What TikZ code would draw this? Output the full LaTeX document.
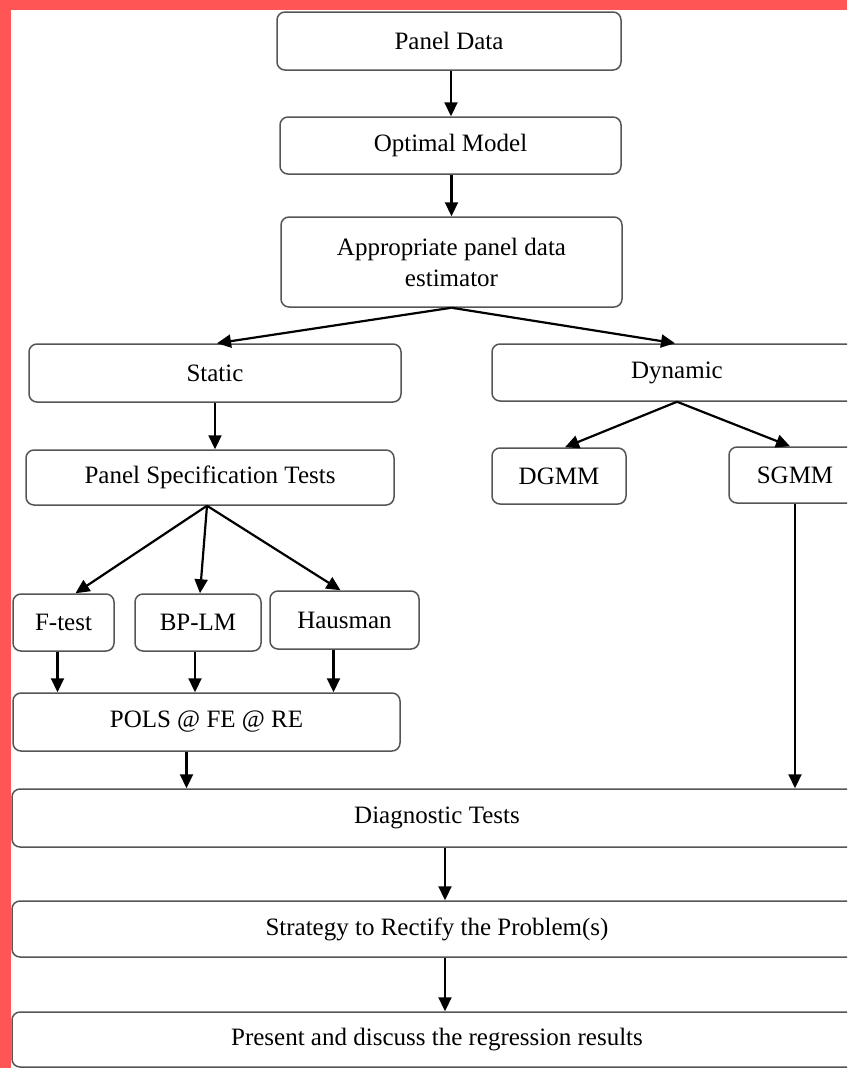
\documentclass[tikz,border=0pt]{standalone}
\usepackage{fontspec}
\setmainfont{Liberation Serif}
\usetikzlibrary{arrows.meta}
\definecolor{framered}{RGB}{255,85,85}
\definecolor{boxline}{RGB}{85,85,85}

\begin{document}
\begin{tikzpicture}[x=1pt,y=-1pt]
\tikzstyle{every node}+=[inner sep=0pt]
\tikzstyle{box}=[draw=boxline,line width=1.5pt,rounded corners=8pt,align=center,font=\fontsize{25}{31}\selectfont]
\tikzstyle{arr}=[black,line width=2.2pt,-{Triangle[length=14pt,width=13pt]}]
\useasboundingbox (0,0) rectangle (847,1068);
\clip (0,0) rectangle (847,1068);
\fill [framered] (0,0) rectangle (11,1068);
\fill [framered] (0,0) rectangle (847,10);
\node [box,minimum width=344pt,minimum height=58pt] (paneldata) at (449,41) {Panel Data};
\node [box,minimum width=341pt,minimum height=57pt] (optimal) at (450.5,145.5) {Optimal Model};
\node [box,minimum width=341pt,minimum height=90pt] (estimator) at (451.5,262) {Appropriate panel data\\estimator};
\node [box,minimum width=372pt,minimum height=58pt] (static) at (215,373) {Static};
\node [box,minimum width=370pt,minimum height=57pt] (dynamic) at (677,372.5) {Dynamic};
\node [box,minimum width=368pt,minimum height=55pt] (spec) at (210,477.5) {Panel Specification Tests};
\node [box,minimum width=134pt,minimum height=56pt] (dgmm) at (559,476) {DGMM};
\node [box,minimum width=132pt,minimum height=56pt] (sgmm) at (795,475) {SGMM};
\node [box,minimum width=101pt,minimum height=57pt] (ftest) at (63.5,622.5) {F-test};
\node [box,minimum width=126pt,minimum height=57pt] (bplm) at (198,622.5) {BP-LM};
\node [box,minimum width=149pt,minimum height=58pt] (hausman) at (344.5,620) {Hausman};
\node [box,minimum width=387pt,minimum height=58pt] (pols) at (206.5,722) {POLS @ FE @ RE};
\node [box,minimum width=850pt,minimum height=58pt] (diag) at (437,818) {Diagnostic Tests};
\node [box,minimum width=850pt,minimum height=56pt] (strategy) at (437,929) {Strategy to Rectify the Problem(s)};
\node [box,minimum width=850pt,minimum height=55pt] (present) at (437,1039.5) {Present and discuss the regression results};
\draw [arr] ([xshift=2pt]paneldata.south) -- ([xshift=2pt]paneldata.south |- optimal.north);
\draw [arr] ([xshift=1pt]optimal.south) -- ([xshift=1pt]optimal.south |- estimator.north);
\draw [arr] (estimator.south) -- ([xshift=2pt]static.north);
\draw [arr] (estimator.south) -- ([xshift=-2pt]dynamic.north);
\draw [arr] (static.south) -- (static.south |- spec.north);
\draw [arr] (dynamic.south) -- ([xshift=6pt]dgmm.north);
\draw [arr] (dynamic.south) -- ([xshift=-5pt]sgmm.north);
\draw [arr] ([xshift=-3pt]spec.south) -- ([xshift=12pt]ftest.north);
\draw [arr] ([xshift=-3pt]spec.south) -- ([xshift=2pt]bplm.north);
\draw [arr] ([xshift=-3pt]spec.south) -- ([xshift=-4pt]hausman.north);
\draw [arr] ([xshift=-6pt]ftest.south) -- ([xshift=-6pt]ftest.south |- pols.north);
\draw [arr] ([xshift=-3pt]bplm.south) -- ([xshift=-3pt]bplm.south |- pols.north);
\draw [arr] ([xshift=-11pt]hausman.south) -- ([xshift=-11pt]hausman.south |- pols.north);
\draw [arr] ([xshift=-20pt]pols.south) -- ([xshift=-20pt]pols.south |- diag.north);
\draw [arr] (sgmm.south) -- (sgmm.south |- diag.north);
\draw [arr] ([xshift=8pt]diag.south) -- ([xshift=8pt]diag.south |- strategy.north);
\draw [arr] ([xshift=8pt]strategy.south) -- ([xshift=8pt]strategy.south |- present.north);
\end{tikzpicture}
\end{document}
